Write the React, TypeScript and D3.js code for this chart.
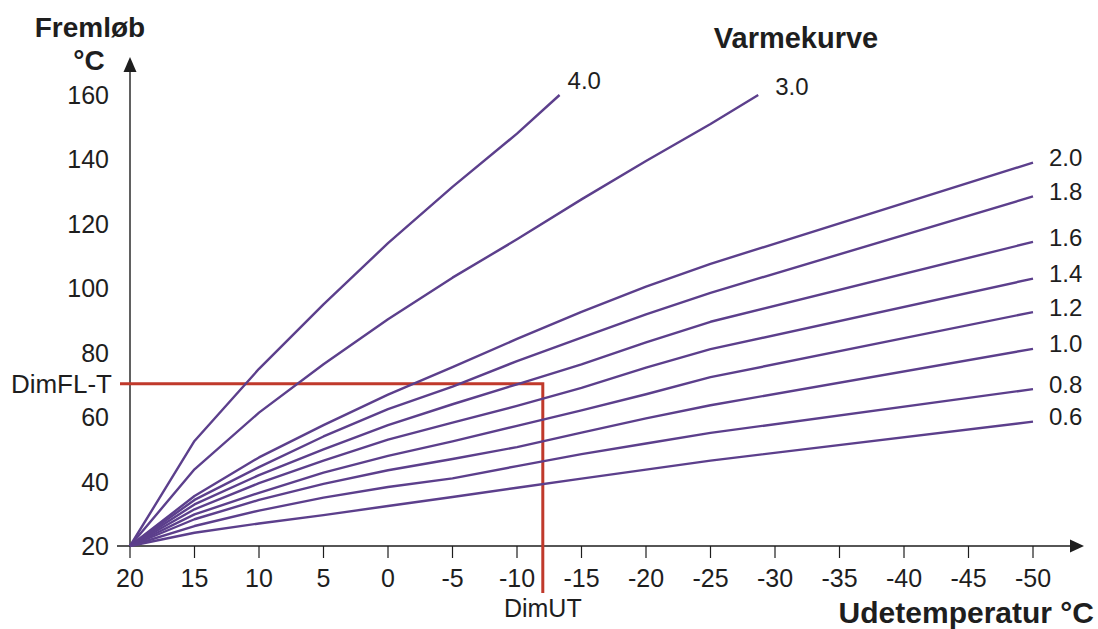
import React, { useEffect } from 'react';
import * as d3 from 'd3';

// outdoor temperature ticks (°C) and flow temperature ticks (°C)
const xTicks = [20, 15, 10, 5, 0, -5, -10, -15, -20, -25, -30, -35, -40, -45, -50];
const yTicks = [20, 40, 60, 80, 100, 120, 140, 160];

// heating curves: [outdoor temp, flow temp]
const curve40: [number, number][] = [[20, 20], [15, 52.6], [10, 75], [5, 95], [0, 114], [-5, 131.5], [-10, 148], [-13.3, 160]];
const curve30: [number, number][] = [[20, 20], [15, 43.8], [10, 61.4], [5, 76.4], [0, 90.4], [-5, 103.3], [-10, 115.2], [-15, 127.6], [-20, 139.5], [-25, 151], [-28.7, 160]];
const curve20: [number, number][] = [[20, 20], [15, 35.5], [10, 47.5], [5, 57.5], [0, 67], [-5, 75.5], [-10, 84.3], [-15, 92.7], [-20, 100.5], [-25, 107.6], [-50, 139]];
const curve18: [number, number][] = [[20, 20], [15, 34.3], [10, 44.5], [5, 54], [0, 62.5], [-5, 69.5], [-10, 77.4], [-15, 84.7], [-20, 91.9], [-25, 98.6], [-50, 128.5]];
const curve16: [number, number][] = [[20, 20], [15, 32.9], [10, 42], [5, 50], [0, 57.5], [-5, 64], [-10, 70.2], [-15, 76.4], [-20, 83.2], [-25, 89.6], [-50, 114.4]];
const curve14: [number, number][] = [[20, 20], [15, 31.4], [10, 39.5], [5, 46.5], [0, 53], [-5, 58.3], [-10, 63.5], [-15, 69.1], [-20, 75.4], [-25, 81.1], [-50, 103]];
const curve12: [number, number][] = [[20, 20], [15, 29.8], [10, 36.5], [5, 42.8], [0, 48], [-5, 52.5], [-10, 57.3], [-15, 62.1], [-20, 67.1], [-25, 72.4], [-50, 92.6]];
const curve10: [number, number][] = [[20, 20], [15, 28.3], [10, 34.3], [5, 39.3], [0, 43.5], [-5, 47], [-10, 50.7], [-15, 55.2], [-20, 59.6], [-25, 63.7], [-50, 81.2]];
const curve08: [number, number][] = [[20, 20], [15, 26.2], [10, 31], [5, 35], [0, 38.3], [-5, 41], [-10, 44.8], [-15, 48.5], [-20, 51.8], [-25, 55.1], [-50, 68.7]];
const curve06: [number, number][] = [[20, 20], [15, 24.1], [10, 27], [5, 29.6], [0, 32.4], [-5, 35.2], [-10, 38.1], [-15, 40.9], [-20, 43.7], [-25, 46.5], [-50, 58.6]];

const curveNames = ['4.0', '3.0', '2.0', '1.8', '1.6', '1.4', '1.2', '1.0', '0.8', '0.6'];
const curveData = [curve40, curve30, curve20, curve18, curve16, curve14, curve12, curve10, curve08, curve06];

// design point
const dimUT = -12;
const dimFLT = 70.4;

const FONT = '"Liberation Sans", Arial, Helvetica, sans-serif';
const PURPLE = '#5c3f8c';
const RED = '#c0392b';
const INK = '#1e1e1e';

export default function App(): JSX.Element {
  useEffect(() => {
    document.body.style.margin = '0';
  }, []);

  const width = 1098;
  const height = 629;

  const x = d3.scaleLinear().domain([20, -50]).range([130, 1033]);
  const y = d3.scaleLinear().domain([20, 160]).range([546, 95]);

  const line = d3
    .line<[number, number]>()
    .x((d) => x(d[0]))
    .y((d) => y(d[1]));

  const x0 = x(20);
  const y0 = y(20);

  return (
    <svg width={width} height={height} style={{ display: 'block', background: '#fff' }} fontFamily={FONT}>
      {/* axes */}
      <line x1={x0 - 13} y1={y0} x2={1072} y2={y0} stroke={INK} strokeWidth={1.4} />
      <path d={`M1084,${y0} L1070,${y0 - 6.5} L1070,${y0 + 6.5} Z`} fill={INK} />
      <line x1={x0} y1={y0} x2={x0} y2={70} stroke={INK} strokeWidth={1.4} />
      <path d={`M${x0},57 L${x0 - 6.5},72 L${x0 + 6.5},72 Z`} fill={INK} />

      {/* x ticks */}
      {xTicks.map((t) => (
        <g key={t}>
          <line x1={x(t)} y1={y0} x2={x(t)} y2={y0 + 12} stroke={INK} strokeWidth={1.2} />
          <text x={x(t)} y={y0 + 41} textAnchor="middle" fontSize={25} fill={INK}>
            {t}
          </text>
        </g>
      ))}

      {/* y tick labels */}
      {yTicks.map((v) => (
        <text key={v} x={109} y={y(v)} dy="0.36em" textAnchor="end" fontSize={25} fill={INK}>
          {v}
        </text>
      ))}

      {/* design point */}
      <path
        d={`M${x0 - 10},${y(dimFLT)} H${x(dimUT)} V${y0 + 47}`}
        fill="none"
        stroke={RED}
        strokeWidth={3}
      />
      <text x={112} y={y(dimFLT)} dy="0.36em" textAnchor="end" fontSize={26} fill={INK}>
        DimFL-T
      </text>
      <text x={x(dimUT)} y={y0 + 71} textAnchor="middle" fontSize={25} fill={INK}>
        DimUT
      </text>

      {/* curves */}
      {curveData.map((pts, i) => (
        <path key={curveNames[i]} d={line(pts) ?? ''} fill="none" stroke={PURPLE} strokeWidth={2.4} strokeLinejoin="round" />
      ))}

      {/* curve labels */}
      {curveData.map((pts, i) => {
        const end = pts[pts.length - 1];
        const top = i < 2;
        const dx = top ? (i === 0 ? 8 : 17) : 16;
        const dy = top ? (i === 0 ? -15 : -9) : -5;
        return (
          <text
            key={curveNames[i]}
            x={x(end[0]) + dx}
            y={y(end[1]) + dy}
            dy="0.36em"
            fontSize={24}
            fill={INK}
          >
            {curveNames[i]}
          </text>
        );
      })}

      {/* titles */}
      <text x={90} y={37} textAnchor="middle" fontSize={28} fontWeight="bold" fill={INK}>
        Fremløb
      </text>
      <text x={89} y={70} textAnchor="middle" fontSize={28} fontWeight="bold" fill={INK}>
        °C
      </text>
      <text x={796} y={48} textAnchor="middle" fontSize={29} fontWeight="bold" fill={INK}>
        Varmekurve
      </text>
      <text x={1094} y={623} textAnchor="end" fontSize={30} fontWeight="bold" fill={INK}>
        Udetemperatur °C
      </text>
    </svg>
  );
}
